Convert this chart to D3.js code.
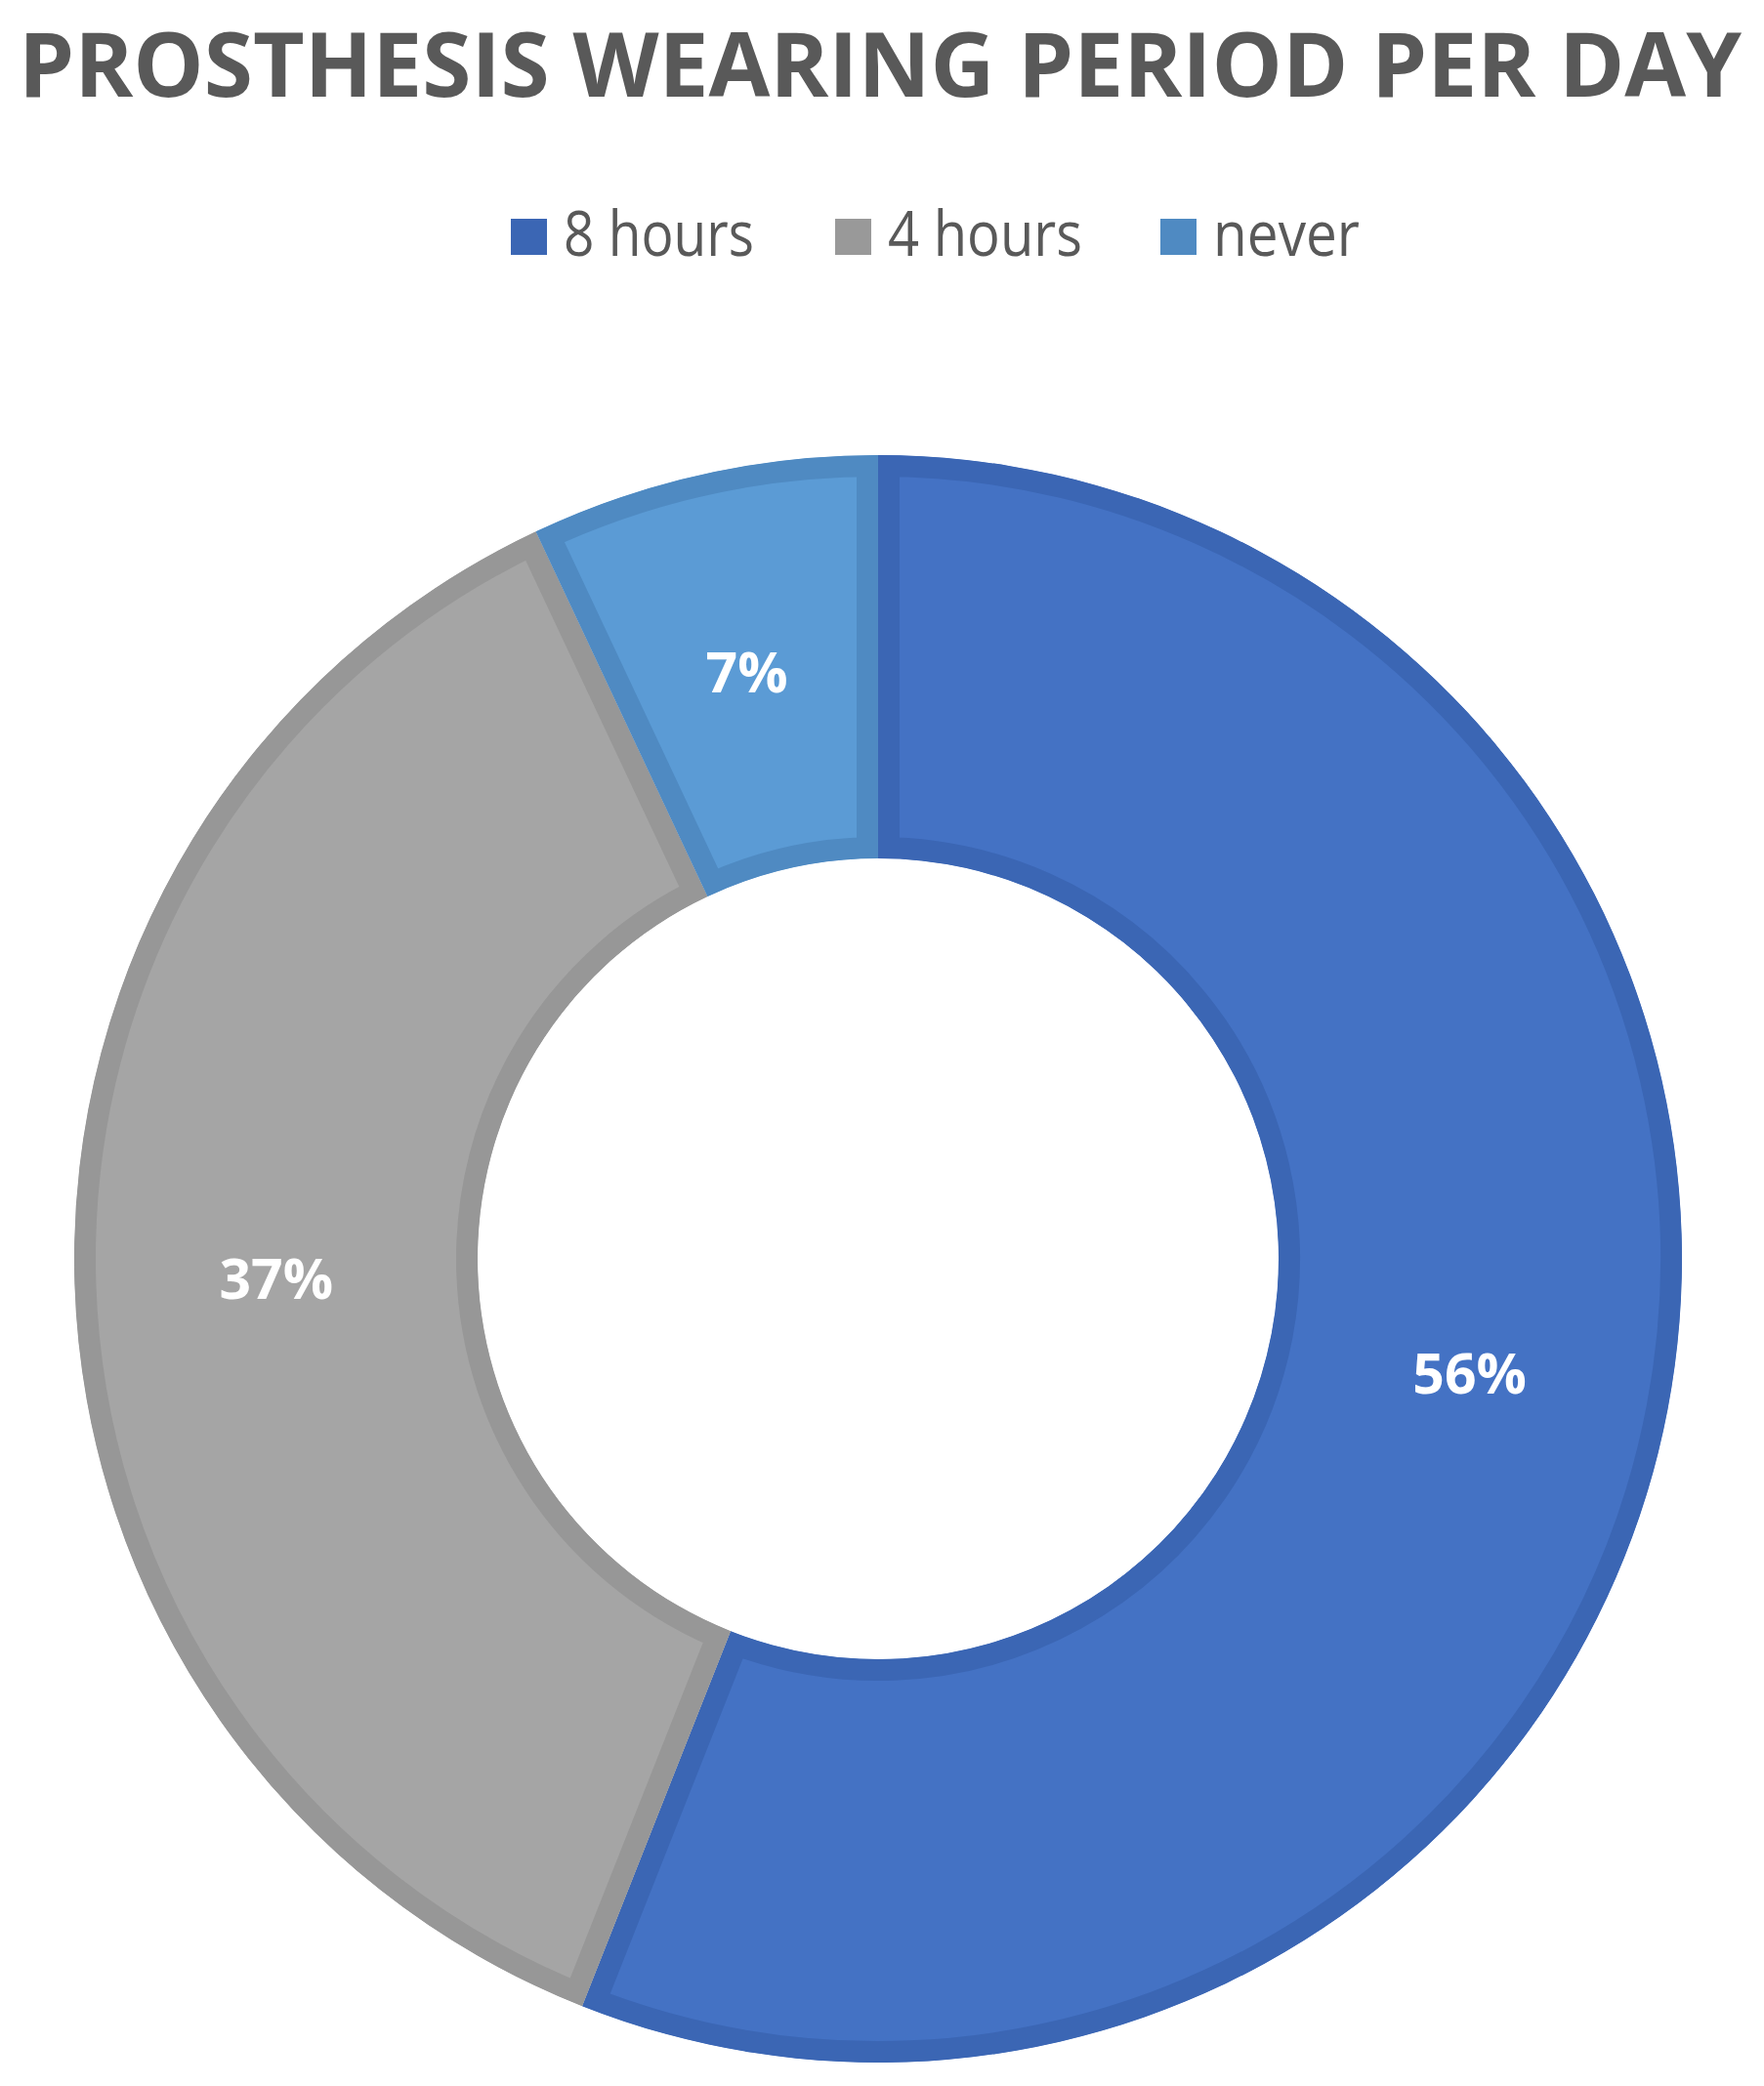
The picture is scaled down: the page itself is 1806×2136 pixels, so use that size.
<!DOCTYPE html>
<html>
<head>
<meta charset="utf-8">
<script src="https://cdn.jsdelivr.net/npm/d3@7"></script>
<style>
  html, body { margin: 0; padding: 0; background: #ffffff; }
  svg { display: block; }
</style>
</head>
<body>
<svg id="chart" width="1806" height="2136"></svg>
<script>
const title = "PROSTHESIS WEARING PERIOD PER DAY";
const categories = ["8 hours", "4 hours", "never"];
const values = [56, 37, 7];
const labels = ["56%", "37%", "7%"];
const fillColors = ["#4472C4", "#A5A5A5", "#5B9BD5"];
const borderColors = ["#3B66B4", "#979797", "#4F8AC2"];

const svg = d3.select("#chart");
const W = 1806;

// Title
svg.append("text")
  .attr("x", W / 2 - 2)
  .attr("y", 99)
  .attr("text-anchor", "middle")
  .attr("font-family", "'Open Sans', sans-serif")
  .attr("font-weight", 700)
  .attr("font-size", 91)
  .attr("fill", "#595959")
  .attr("textLength", 1764)
  .attr("lengthAdjust", "spacingAndGlyphs")
  .text(title);

// Legend
const legendX = [523, 855, 1188];
const legendTextW = [195, 199, 150];
const legend = svg.append("g");
categories.forEach((c, i) => {
  legend.append("rect")
    .attr("x", legendX[i]).attr("y", 224)
    .attr("width", 37).attr("height", 37)
    .attr("fill", fillColors[i] === "#A5A5A5" ? "#999999" : borderColors[i]);
  legend.append("text")
    .attr("x", legendX[i] + 54).attr("y", 262)
    .attr("font-family", "'Open Sans', sans-serif")
    .attr("font-size", 64)
    .attr("fill", "#595959")
    .attr("textLength", legendTextW[i])
    .attr("lengthAdjust", "spacingAndGlyphs")
    .text(c);
});

// Donut
const cx = 899, cy = 1289, rOuter = 823, rInner = 410, border = 22;
const pie = d3.pie().value(d => d).sort(null);
const arcs = pie(values);
const arc = d3.arc().innerRadius(rInner).outerRadius(rOuter);

const g = svg.append("g").attr("transform", `translate(${cx},${cy})`);
const defs = svg.append("defs");

arcs.forEach((a, i) => {
  defs.append("clipPath").attr("id", "clip" + i)
    .append("path").attr("d", arc(a));
  g.append("path")
    .attr("d", arc(a))
    .attr("fill", fillColors[i])
    .attr("stroke", borderColors[i])
    .attr("stroke-width", border * 2)
    .attr("clip-path", `url(#clip${i})`);
});

arcs.forEach((a, i) => {
  const [x, y] = arc.centroid(a);
  g.append("text")
    .attr("x", x).attr("y", y)
    .attr("text-anchor", "middle")
    .attr("dominant-baseline", "central")
    .attr("font-family", "'Open Sans', sans-serif")
    .attr("font-weight", 700)
    .attr("font-size", 57)
    .attr("fill", "#ffffff")
    .text(labels[i]);
});
</script>
</body>
</html>
